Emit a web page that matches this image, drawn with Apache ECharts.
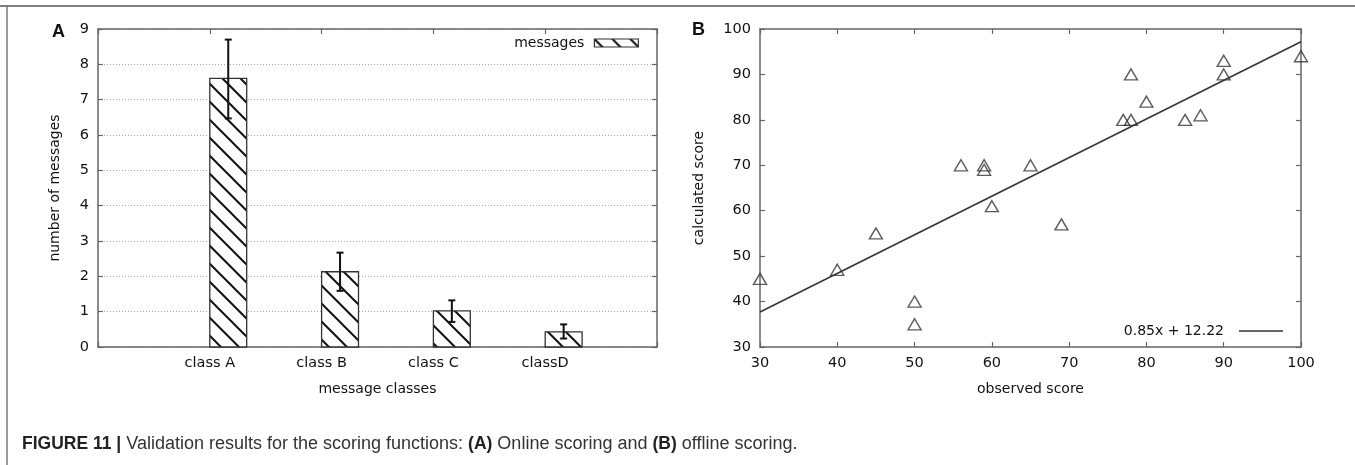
<!DOCTYPE html>
<html>
<head>
<meta charset="utf-8">
<script src="https://cdn.jsdelivr.net/npm/echarts@6/dist/echarts.min.js"></script>
<style>
html,body{margin:0;padding:0;background:#fff;}
#chart{width:1355px;height:465px;}
</style>
</head>
<body>
<div id="chart"></div>
<script>
// ---- Panel A data ----
const categories = ['class A', 'class B', 'class C', 'classD'];
const messageMeans = [7.6, 2.13, 1.02, 0.43];
const messageErrLow = [6.47, 1.59, 0.71, 0.24];
const messageErrHigh = [8.7, 2.67, 1.32, 0.64];
const yTicksA = [0, 1, 2, 3, 4, 5, 6, 7, 8, 9];

// ---- Panel B data ----
const observedScore = [30, 40, 45, 50, 50, 56, 59, 59, 60, 65, 69, 77, 78, 78, 80, 85, 87, 90, 90, 100];
const calculatedScore = [45, 47, 55, 40, 35, 70, 70, 69, 61, 70, 57, 80, 80, 90, 84, 80, 81, 93, 90, 94];
const fitLineX = [30, 100];
const fitLineY = [37.7, 97.2];
const fitLabel = '0.85x + 12.22';

// ---- hatch pattern ----
function makeHatch() {
  const s = 18;
  const c = document.createElement('canvas');
  c.width = s; c.height = s;
  const g = c.getContext('2d');
  g.fillStyle = '#fff';
  g.fillRect(0, 0, s, s);
  g.strokeStyle = '#111';
  g.lineWidth = 2;
  g.beginPath();
  g.moveTo(-2, -2); g.lineTo(s + 2, s + 2);
  g.moveTo(-2, s - 2); g.lineTo(2, s + 2);
  g.moveTo(s - 2, -2); g.lineTo(s + 2, 2);
  g.stroke();
  return { image: c, repeat: 'repeat' };
}
const hatch = makeHatch();

const BAR_SPAN = 0.33;
const FONT = 'DejaVu Sans';
const TXT = '#111';
const FRAME = '#666';

const labelStyle = { fontFamily: FONT, fontSize: 14.5, color: TXT };
const nameStyle = { fontFamily: FONT, fontSize: 14, color: TXT };

function frameAxis(extra) {
  return Object.assign({
    type: 'value',
    axisLine: { show: true, onZero: false, lineStyle: { color: FRAME, width: 1.5 } },
    axisTick: { show: true, inside: true, length: 5, lineStyle: { color: FRAME, width: 1.2 } },
    splitLine: { show: false },
    axisLabel: { show: false }
  }, extra);
}

const chart = echarts.init(document.getElementById('chart'), null, { renderer: 'canvas' });

const option = {
  animation: false,
  backgroundColor: '#fff',
  grid: [
    { left: 98, top: 29, width: 559, height: 318 },
    { left: 760, top: 29, width: 541, height: 318 }
  ],
  xAxis: [
    frameAxis({
      gridIndex: 0, position: 'bottom', min: 0, max: 5, interval: 1,
      axisLabel: Object.assign({ show: true, margin: 9, formatter: v => categories[v - 1] || '' }, labelStyle),
      name: 'message classes', nameLocation: 'middle', nameGap: 35, nameTextStyle: nameStyle
    }),
    frameAxis({ gridIndex: 0, position: 'top', min: 0, max: 5, interval: 1 }),
    frameAxis({
      gridIndex: 1, position: 'bottom', min: 30, max: 100, interval: 10,
      axisLabel: Object.assign({ show: true, margin: 9 }, labelStyle),
      name: 'observed score', nameLocation: 'middle', nameGap: 35, nameTextStyle: nameStyle
    }),
    frameAxis({ gridIndex: 1, position: 'top', min: 30, max: 100, interval: 10 })
  ],
  yAxis: [
    frameAxis({
      gridIndex: 0, position: 'left', min: yTicksA[0], max: yTicksA[yTicksA.length - 1], interval: 1,
      axisLabel: Object.assign({ show: true, margin: 9 }, labelStyle),
      splitLine: { show: true, lineStyle: { color: '#aaa', type: [1, 2], width: 1 } },
      name: 'number of messages', nameLocation: 'middle', nameGap: 36, nameTextStyle: nameStyle
    }),
    frameAxis({ gridIndex: 0, position: 'right', min: 0, max: 9, interval: 1 }),
    frameAxis({
      gridIndex: 1, position: 'left', min: 30, max: 100, interval: 10,
      axisLabel: Object.assign({ show: true, margin: 9 }, labelStyle),
      name: 'calculated score', nameLocation: 'middle', nameGap: 54, nameTextStyle: nameStyle
    }),
    frameAxis({ gridIndex: 1, position: 'right', min: 30, max: 100, interval: 10 })
  ],
  legend: [
    {
      data: ['messages'], right: 716, top: 36, padding: 0, align: 'right',
      icon: 'rect', itemWidth: 44, itemHeight: 8,
      itemStyle: { color: hatch, borderColor: '#333', borderWidth: 1.2 },
      textStyle: { fontFamily: FONT, fontSize: 14, color: TXT, padding: [0, 5, 0, 0] }
    },
    {
      data: [fitLabel], right: 72, top: 324, padding: 0, align: 'right',
      icon: 'rect', itemWidth: 44, itemHeight: 1.4,
      itemStyle: { color: '#333', borderWidth: 0 },
      textStyle: { fontFamily: FONT, fontSize: 14, color: TXT, padding: [0, 10, 0, 0] }
    }
  ],
  series: [
    {
      name: 'messages', type: 'custom', xAxisIndex: 0, yAxisIndex: 0,
      itemStyle: { color: hatch, borderColor: '#333', borderWidth: 1 },
      data: categories.map((c, i) => [i + 1, messageMeans[i]]),
      renderItem: function (params, api) {
        const x = api.value(0), y = api.value(1);
        const p0 = api.coord([x, 0]);
        const p1 = api.coord([x + BAR_SPAN, y]);
        return {
          type: 'rect',
          shape: { x: p0[0], y: p1[1], width: p1[0] - p0[0], height: p0[1] - p1[1] },
          style: { fill: hatch, stroke: '#333', lineWidth: 1.3 }
        };
      },
      z: 2
    },
    {
      name: 'errors', type: 'custom', xAxisIndex: 0, yAxisIndex: 0,
      data: categories.map((c, i) => [i + 1, messageErrLow[i], messageErrHigh[i]]),
      renderItem: function (params, api) {
        const xc = api.value(0) + BAR_SPAN / 2;
        const lo = api.coord([xc, api.value(1)]);
        const hi = api.coord([xc, api.value(2)]);
        const st = { stroke: '#111', lineWidth: 2 };
        return {
          type: 'group',
          children: [
            { type: 'line', shape: { x1: lo[0], y1: lo[1], x2: hi[0], y2: hi[1] }, style: st },
            { type: 'line', shape: { x1: lo[0] - 3.5, y1: lo[1], x2: lo[0] + 3.5, y2: lo[1] }, style: st },
            { type: 'line', shape: { x1: hi[0] - 3.5, y1: hi[1], x2: hi[0] + 3.5, y2: hi[1] }, style: st }
          ]
        };
      },
      z: 3
    },
    {
      name: 'observations', type: 'scatter', xAxisIndex: 2, yAxisIndex: 2,
      symbol: 'triangle', symbolSize: [13, 11],
      itemStyle: { color: 'rgba(255,255,255,0)', borderColor: '#333', borderWidth: 1.4 },
      data: observedScore.map((x, i) => [x, calculatedScore[i]]),
      z: 3
    },
    {
      name: fitLabel, type: 'line', xAxisIndex: 2, yAxisIndex: 2,
      symbol: 'none', showSymbol: false,
      lineStyle: { color: '#333', width: 1.5 },
      itemStyle: { color: '#333' },
      data: fitLineX.map((x, i) => [x, fitLineY[i]]),
      z: 2
    }
  ],
  graphic: [
    { type: 'line', shape: { x1: 0, y1: 6, x2: 1355, y2: 6 }, style: { stroke: '#555', lineWidth: 1.5 } },
    { type: 'line', shape: { x1: 7, y1: 6, x2: 7, y2: 465 }, style: { stroke: '#777', lineWidth: 1.5 } },
    { type: 'text', left: 52, top: 23, style: { text: 'A', font: 'bold 18px "Liberation Sans"', fill: '#111' } },
    { type: 'text', left: 692, top: 21, style: { text: 'B', font: 'bold 18px "Liberation Sans"', fill: '#111' } },
    {
      type: 'text', x: 22, y: 444,
      style: {
        text: '{b|FIGURE 11 |} Validation results for the scoring functions: {b|(A)} Online scoring and {b|(B)} offline scoring.',
        fontFamily: 'Liberation Sans', fontSize: 18, fill: '#333', verticalAlign: 'middle',
        rich: { b: { fontFamily: 'Liberation Sans', fontSize: 17.5, fontWeight: 'bold', fill: '#222' } }
      }
    }
  ]
};
chart.setOption(option);
</script>
</body>
</html>
